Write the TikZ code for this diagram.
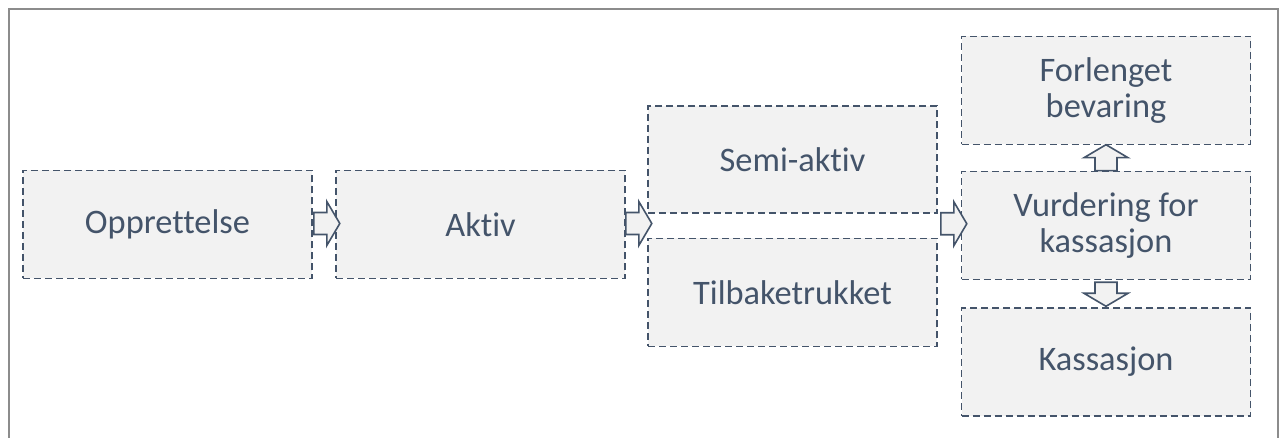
\documentclass[tikz,border=0pt]{standalone}
\usepackage{fontspec}
\setmainfont{Carlito}[Ligatures=NoCommon]
\usetikzlibrary{calc}
\definecolor{txt}{HTML}{44546A}
\definecolor{boxfill}{HTML}{F2F2F2}
\definecolor{framecol}{HTML}{8C8C8C}
\tikzset{
  stagebox/.style={rectangle, draw=txt, fill=boxfill, line width=1.6bp,
    dash pattern=on 7bp off 4bp, minimum width=289bp, minimum height=108bp,
    inner sep=0pt, text=txt, align=center, font=\fontsize{34.5}{37}\selectfont},
  blockarrow/.style={draw=txt, fill=boxfill, line width=1.6bp, line join=miter}
}
\begin{document}
\begin{tikzpicture}[x=1bp,y=-1bp]
\useasboundingbox (0,0) rectangle (1280,438);
\draw[framecol, line width=1.6bp] (9,445) -- (9,9) -- (1278,9) -- (1278,445);

\node[stagebox] (opp) at (167.5,224.5) {Opprettelse};
\node[stagebox] (akt) at (480.5,224.5) {Aktiv};
\node[stagebox, minimum height=107bp] (semi) at (792.5,159.5) {Semi-aktiv};
\node[stagebox] (tilb) at (792.5,292.5) {Tilbaketrukket};
\node[stagebox] (forl) at (1106,90.5) {Forlenget\\bevaring};
\node[stagebox] (vurd) at (1106,225.5) {Vurdering for\\kassasjon};
\node[stagebox] (kass) at (1106,362) {Kassasjon};

\coordinate (a1) at ($(opp.east)+(1,-1)$);
\coordinate (a2) at ($(akt.east)+(0,-1)$);
\coordinate (a3) at ($($(semi.south east)!0.5!(tilb.north east)$)+(3,-2)$);
\coordinate (a4) at ($(vurd.north)+(0,0)$);
\coordinate (a5) at ($(vurd.south)+(0,2)$);

\foreach \s in {a1,a2,a3}{
  \draw[blockarrow] (\s) -- ++(0,-11) -- ++(13,0) -- ++(0,-11) -- ++(13,22)
    -- ++(-13,22) -- ++(0,-11) -- ++(-13,0) -- cycle;
}
\draw[blockarrow] (a4) -- ++(-11,0) -- ++(0,-13) -- ++(-11,0) -- ++(22,-13)
  -- ++(22,13) -- ++(-11,0) -- ++(0,13) -- cycle;
\draw[blockarrow] (a5) -- ++(-11,0) -- ++(0,11) -- ++(-11,0) -- ++(22,13)
  -- ++(22,-13) -- ++(-11,0) -- ++(0,-11) -- cycle;
\end{tikzpicture}
\end{document}
